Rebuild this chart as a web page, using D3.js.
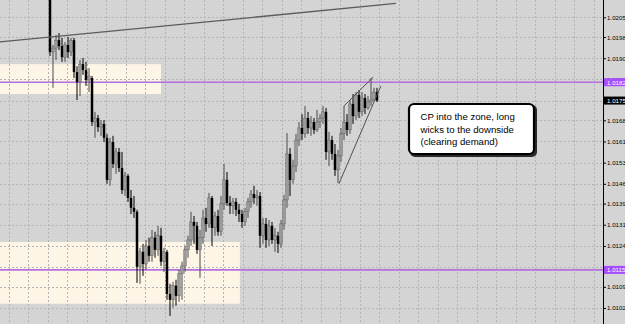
<!DOCTYPE html>
<html>
<head>
<meta charset="utf-8">
<script src="https://cdn.jsdelivr.net/npm/d3@7/dist/d3.min.js"></script>
<style>
  html, body { margin: 0; padding: 0; background: #d4d4d4; overflow: hidden; }
  svg { display: block; }
</style>
</head>
<body>
<div id="chart"></div>
<script>
// candles, oldest first
const openPx = [1.02253, 1.01927, 1.01941, 1.01969, 1.01948, 1.01909, 1.01952, 1.01927, 1.01969, 1.01856,
  1.01821, 1.01884, 1.01863, 1.01828, 1.01835, 1.01679, 1.01693, 1.01661, 1.01672, 1.01623,
  1.01474, 1.01608, 1.01530, 1.01573, 1.01516, 1.01438, 1.01488, 1.01410, 1.01375, 1.01361,
  1.01166, 1.01219, 1.01176, 1.01240, 1.01205, 1.01269, 1.01226, 1.01276, 1.01184, 1.01219,
  1.01070, 1.01049, 1.01099, 1.01063, 1.01141, 1.01169, 1.01226, 1.01261, 1.01325, 1.01311,
  1.01226, 1.01269, 1.01339, 1.01318, 1.01410, 1.01304, 1.01346, 1.01290, 1.01389, 1.01474,
  1.01392, 1.01382, 1.01396, 1.01368, 1.01353, 1.01325, 1.01361, 1.01396, 1.01424, 1.01410,
  1.01417, 1.01276, 1.01318, 1.01261, 1.01311, 1.01261, 1.01276, 1.01247, 1.01318, 1.01403,
  1.01566, 1.01474, 1.01523, 1.01615, 1.01658, 1.01637, 1.01693, 1.01658, 1.01679, 1.01651,
  1.01679, 1.01693, 1.01715, 1.01573, 1.01615, 1.01566, 1.01509, 1.01559, 1.01637, 1.01679,
  1.01651, 1.01743, 1.01700, 1.01775, 1.01715, 1.01764, 1.01729, 1.01750, 1.01757, 1.01785];
const highPx = [1.02288, 1.01952, 1.01987, 1.01994, 1.01977, 1.01962, 1.01980, 1.01977, 1.01977, 1.01877,
  1.01899, 1.01906, 1.01892, 1.01870, 1.01842, 1.01715, 1.01704, 1.01686, 1.01686, 1.01637,
  1.01623, 1.01630, 1.01587, 1.01587, 1.01573, 1.01502, 1.01495, 1.01438, 1.01417, 1.01368,
  1.01233, 1.01247, 1.01261, 1.01269, 1.01297, 1.01290, 1.01311, 1.01304, 1.01233, 1.01226,
  1.01106, 1.01113, 1.01120, 1.01155, 1.01184, 1.01240, 1.01276, 1.01361, 1.01346, 1.01325,
  1.01297, 1.01368, 1.01375, 1.01428, 1.01417, 1.01361, 1.01368, 1.01417, 1.01530, 1.01502,
  1.01417, 1.01410, 1.01410, 1.01389, 1.01368, 1.01375, 1.01410, 1.01438, 1.01453, 1.01438,
  1.01431, 1.01339, 1.01339, 1.01332, 1.01325, 1.01304, 1.01290, 1.01332, 1.01421, 1.01640,
  1.01587, 1.01545, 1.01637, 1.01679, 1.01707, 1.01736, 1.01715, 1.01700, 1.01693, 1.01722,
  1.01707, 1.01736, 1.01729, 1.01644, 1.01630, 1.01601, 1.01580, 1.01658, 1.01736, 1.01707,
  1.01757, 1.01778, 1.01785, 1.01792, 1.01785, 1.01778, 1.01771, 1.01835, 1.01800, 1.01800];
const lowPx = [1.01913, 1.01800, 1.01899, 1.01934, 1.01892, 1.01892, 1.01906, 1.01913, 1.01835, 1.01757,
  1.01771, 1.01846, 1.01807, 1.01785, 1.01665, 1.01623, 1.01644, 1.01630, 1.01608, 1.01460,
  1.01453, 1.01516, 1.01495, 1.01502, 1.01424, 1.01417, 1.01396, 1.01353, 1.01339, 1.01109,
  1.01106, 1.01134, 1.01155, 1.01184, 1.01184, 1.01198, 1.01205, 1.01169, 1.01148, 1.01049,
  1.00992, 1.01021, 1.01028, 1.01042, 1.01049, 1.01148, 1.01198, 1.01240, 1.01247, 1.01212,
  1.01127, 1.01247, 1.01290, 1.01304, 1.01240, 1.01276, 1.01276, 1.01276, 1.01368, 1.01382,
  1.01353, 1.01353, 1.01346, 1.01325, 1.01304, 1.01311, 1.01339, 1.01375, 1.01389, 1.01382,
  1.01233, 1.01247, 1.01233, 1.01240, 1.01247, 1.01219, 1.01215, 1.01233, 1.01297, 1.01375,
  1.01417, 1.01460, 1.01502, 1.01594, 1.01615, 1.01623, 1.01637, 1.01630, 1.01637, 1.01644,
  1.01658, 1.01672, 1.01545, 1.01523, 1.01545, 1.01488, 1.01463, 1.01538, 1.01615, 1.01630,
  1.01637, 1.01672, 1.01686, 1.01693, 1.01700, 1.01707, 1.01722, 1.01736, 1.01753, 1.01750];
const closePx = [1.01927, 1.01941, 1.01969, 1.01948, 1.01909, 1.01952, 1.01927, 1.01969, 1.01856, 1.01821,
  1.01884, 1.01863, 1.01828, 1.01842, 1.01679, 1.01693, 1.01661, 1.01672, 1.01623, 1.01474,
  1.01608, 1.01530, 1.01573, 1.01516, 1.01438, 1.01488, 1.01410, 1.01375, 1.01361, 1.01166,
  1.01219, 1.01176, 1.01240, 1.01205, 1.01269, 1.01226, 1.01276, 1.01184, 1.01219, 1.01070,
  1.01049, 1.01099, 1.01063, 1.01141, 1.01169, 1.01226, 1.01261, 1.01325, 1.01311, 1.01226,
  1.01269, 1.01339, 1.01318, 1.01410, 1.01304, 1.01346, 1.01290, 1.01389, 1.01474, 1.01392,
  1.01382, 1.01396, 1.01368, 1.01353, 1.01325, 1.01361, 1.01396, 1.01424, 1.01410, 1.01417,
  1.01276, 1.01318, 1.01261, 1.01311, 1.01261, 1.01276, 1.01247, 1.01318, 1.01403, 1.01566,
  1.01474, 1.01523, 1.01615, 1.01658, 1.01637, 1.01693, 1.01658, 1.01679, 1.01651, 1.01679,
  1.01693, 1.01715, 1.01573, 1.01615, 1.01566, 1.01509, 1.01559, 1.01637, 1.01679, 1.01651,
  1.01743, 1.01700, 1.01775, 1.01715, 1.01764, 1.01729, 1.01750, 1.01757, 1.01785, 1.01755];

// price scale labels on the right
const tickLabels = ["1.02050", "1.01980", "1.01905", "1.01830", "1.01755", "1.01685", "1.01610",
  "1.01535", "1.01460", "1.01390", "1.01315", "1.01240", "1.01165", "1.01095", "1.01020"];

// horizontal levels (purple) and last price
const levelPrices = [1.01820, 1.01155];
const lastPrice = 1.01755;

// supply / demand boxes: bar index range and price range
const zoneFrom = [-17, -17];
const zoneTo = [37, 63.3];
const zoneHigh = [1.01884, 1.01254];
const zoneLow = [1.01778, 1.01035];

// trend lines: [bar index, price] -> [bar index, price]
const lineFrom = [[-16.7, 1.01963], [96.3, 1.01460], [98, 1.01736]];
const lineTo = [[115.3, 1.02099], [110.3, 1.01807], [107.7, 1.01838]];

const noteLines = ["CP into the zone, long", "wicks to the downside", "(clearing demand)"];

const width = 625, height = 324;
const plotRight = 603;

const svg = d3.select("#chart").append("svg")
  .attr("width", width)
  .attr("height", height)
  .style("font-family", "'Liberation Sans', Arial, sans-serif");

svg.append("rect").attr("width", width).attr("height", height).attr("fill", "#d4d4d4");

const x = d3.scaleLinear().domain([0, openPx.length - 1]).range([50, 377]);
const y = d3.scaleLinear().domain([1.0205, 1.0102]).range([17.3, 308]);

svg.append("clipPath").attr("id", "plotClip")
  .append("rect").attr("width", plotRight).attr("height", height);

const plot = svg.append("g").attr("clip-path", "url(#plotClip)");

// zones
plot.selectAll(".zone")
  .data(zoneFrom)
  .enter().append("rect")
  .attr("class", "zone")
  .attr("x", function (d) { return x(d); })
  .attr("y", function (d, i) { return y(zoneHigh[i]); })
  .attr("width", function (d, i) { return x(zoneTo[i]) - x(d); })
  .attr("height", function (d, i) { return y(zoneLow[i]) - y(zoneHigh[i]); })
  .attr("fill", "#fdf5e6");

// grid
const tickVals = tickLabels.map(Number);
plot.selectAll(".hgrid")
  .data(tickVals)
  .enter().append("line")
  .attr("x1", 0).attr("x2", plotRight)
  .attr("y1", function (d) { return Math.round(y(d)) + 0.5; })
  .attr("y2", function (d) { return Math.round(y(d)) + 0.5; })
  .attr("stroke", "#b4b4b4")
  .attr("stroke-dasharray", "2,2");

plot.selectAll(".vgrid")
  .data(d3.range(8.5, plotRight, 19.5))
  .enter().append("line")
  .attr("x1", function (d) { return Math.round(d) + 0.5; })
  .attr("x2", function (d) { return Math.round(d) + 0.5; })
  .attr("y1", 0).attr("y2", height)
  .attr("stroke", "#b4b4b4")
  .attr("stroke-dasharray", "2,2");

// purple levels
plot.selectAll(".level")
  .data(levelPrices)
  .enter().append("line")
  .attr("x1", 0).attr("x2", plotRight)
  .attr("y1", function (d) { return y(d); })
  .attr("y2", function (d) { return y(d); })
  .attr("stroke", "#b46ee0")
  .attr("stroke-width", 1.6);

// candles
const candles = plot.selectAll(".candle")
  .data(openPx)
  .enter().append("g")
  .attr("class", "candle");

candles.append("line")
  .attr("x1", function (d, i) { return x(i); })
  .attr("x2", function (d, i) { return x(i); })
  .attr("y1", function (d, i) { return y(highPx[i]); })
  .attr("y2", function (d, i) { return y(lowPx[i]); })
  .attr("stroke", function (d, i) { return closePx[i] >= d ? "#4a4a4a" : "#000"; })
  .attr("stroke-width", 1);

candles.append("rect")
  .attr("x", function (d, i) { return x(i) - 1.25; })
  .attr("y", function (d, i) { return y(Math.max(d, closePx[i])); })
  .attr("width", 2.5)
  .attr("height", function (d, i) { return Math.max(1, Math.abs(y(d) - y(closePx[i]))); })
  .attr("fill", function (d, i) { return closePx[i] >= d ? "#9a9a9a" : "#000"; })
  .attr("stroke", function (d, i) { return closePx[i] >= d ? "#555" : "none"; })
  .attr("stroke-width", 0.4);

// trend lines
plot.selectAll(".trend")
  .data(lineFrom)
  .enter().append("line")
  .attr("x1", function (d) { return x(d[0]); })
  .attr("y1", function (d) { return y(d[1]); })
  .attr("x2", function (d, i) { return x(lineTo[i][0]); })
  .attr("y2", function (d, i) { return y(lineTo[i][1]); })
  .attr("stroke", function (d, i) { return i === 0 ? "#5c5c5c" : "#505050"; })
  .attr("stroke-width", function (d, i) { return i === 0 ? 1.3 : 1; });

// note box
const note = svg.append("g");
note.append("rect")
  .attr("x", 410).attr("y", 105).attr("width", 127).attr("height", 52)
  .attr("rx", 5).attr("fill", "#2a2a2a");
note.append("rect")
  .attr("x", 409).attr("y", 104).attr("width", 125).attr("height", 50)
  .attr("rx", 5).attr("fill", "#fff")
  .attr("stroke", "#000").attr("stroke-width", 2.2);
note.selectAll("text")
  .data(noteLines)
  .enter().append("text")
  .attr("x", 420.5)
  .attr("y", function (d, i) { return 120 + i * 12.5; })
  .attr("font-size", 9.6)
  .attr("fill", "#000")
  .text(function (d) { return d; });

// price axis
const axis = svg.append("g")
  .attr("transform", "translate(" + plotRight + ",0)")
  .call(d3.axisRight(y).tickValues(tickVals).tickSize(3).tickPadding(1)
    .tickFormat(function (d, i) { return tickLabels[i]; }));
axis.select(".domain").remove();
axis.selectAll(".tick line").attr("stroke", "#000");
axis.selectAll(".tick text")
  .attr("font-family", "'Liberation Sans', Arial, sans-serif")
  .attr("font-size", 6.2)
  .attr("fill", "#000");

svg.append("line")
  .attr("x1", plotRight + 0.5).attr("x2", plotRight + 0.5)
  .attr("y1", 0).attr("y2", height)
  .attr("stroke", "#000");

// coloured price tags over the axis
const tags = [
  { v: levelPrices[0], fill: "#a64dff" },
  { v: lastPrice, fill: "#000" },
  { v: levelPrices[1], fill: "#a64dff" }
];
svg.selectAll(".tag")
  .data(tags)
  .enter().append("rect")
  .attr("x", plotRight + 1)
  .attr("y", function (d) { return y(d.v) - 4; })
  .attr("width", 22)
  .attr("height", 8)
  .attr("fill", function (d) { return d.fill; });
svg.selectAll(".tagText")
  .data(tags)
  .enter().append("text")
  .attr("x", plotRight + 4)
  .attr("y", function (d) { return y(d.v) + 2.3; })
  .attr("font-size", 6.2)
  .attr("fill", "#fff")
  .text(function (d) { return d3.format(".5f")(d.v); });
</script>
</body>
</html>
